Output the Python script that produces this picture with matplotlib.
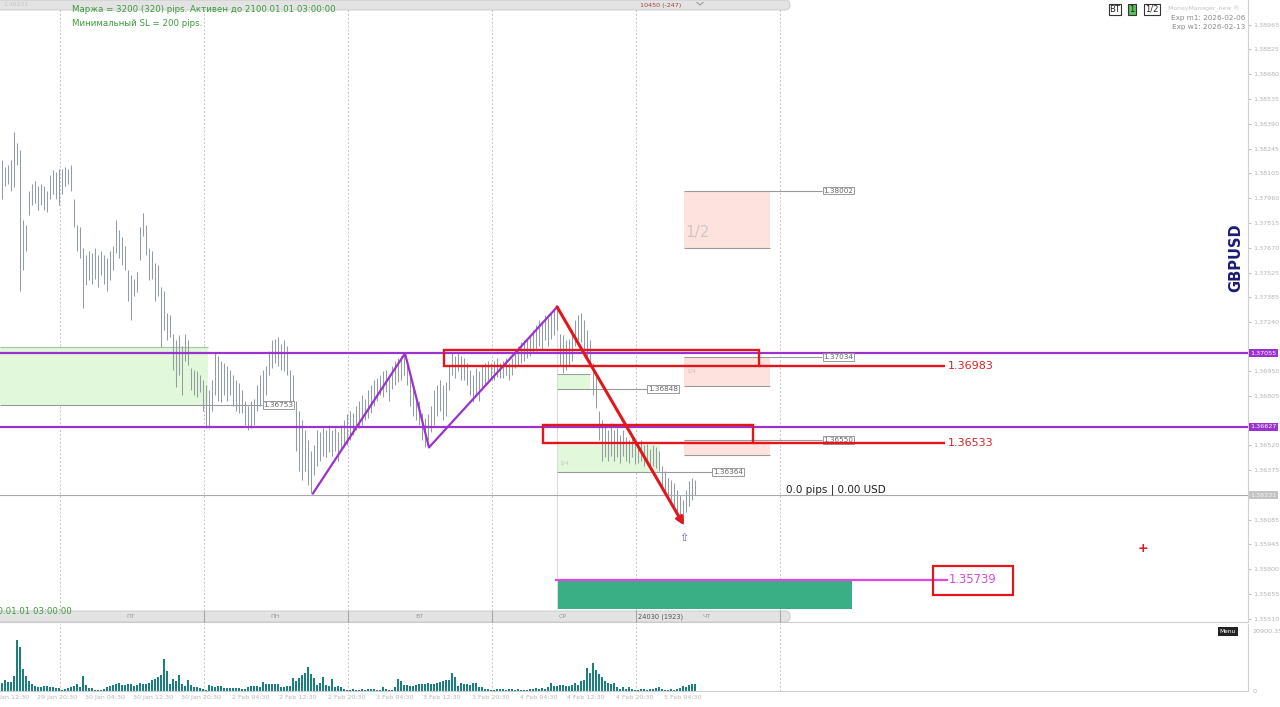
import numpy as np
import matplotlib
matplotlib.use('Agg')
import matplotlib.pyplot as plt
from matplotlib.patches import Rectangle, FancyBboxPatch

plt.rcParams['font.family'] = ['DejaVu Sans']

# GBPUSD, 30 min bars (high / low)
highs = [1.3818, 1.3814, 1.3815, 1.3818, 1.3834, 1.3828, 1.3824, 1.3783, 1.3780, 1.3800,
         1.3804, 1.3806, 1.3803, 1.3804, 1.3803, 1.3800, 1.3809, 1.3812, 1.3811, 1.3813,
         1.3813, 1.3814, 1.3813, 1.3815, 1.3795, 1.3780, 1.3779, 1.3767, 1.3763, 1.3765,
         1.3764, 1.3767, 1.3763, 1.3765, 1.3763, 1.3761, 1.3765, 1.3768, 1.3783, 1.3777,
         1.3773, 1.3768, 1.3754, 1.3751, 1.3749, 1.3753, 1.3779, 1.3787, 1.3780, 1.3767,
         1.3765, 1.3758, 1.3757, 1.3744, 1.3742, 1.3729, 1.3728, 1.3717, 1.3713, 1.3716,
         1.3710, 1.3717, 1.3713, 1.3697, 1.3696, 1.3695, 1.3693, 1.3690, 1.3687, 1.3684,
         1.3690, 1.3706, 1.3704, 1.3701, 1.3700, 1.3698, 1.3696, 1.3693, 1.3690, 1.3688,
         1.3684, 1.3678, 1.3675, 1.3678, 1.3679, 1.3687, 1.3693, 1.3696, 1.3698, 1.3707,
         1.3713, 1.3714, 1.3715, 1.3711, 1.3713, 1.3710, 1.3696, 1.3693, 1.3678, 1.3672,
         1.3667, 1.3661, 1.3655, 1.3649, 1.3652, 1.3661, 1.3660, 1.3662, 1.3661, 1.3664,
         1.3661, 1.3662, 1.3660, 1.3664, 1.3667, 1.3670, 1.3672, 1.3671, 1.3675, 1.3678,
         1.3681, 1.3679, 1.3684, 1.3687, 1.3690, 1.3691, 1.3693, 1.3695, 1.3696, 1.3693,
         1.3698, 1.3701, 1.3703, 1.3704, 1.3706, 1.3701, 1.3693, 1.3687, 1.3681, 1.3678,
         1.3671, 1.3668, 1.3670, 1.3675, 1.3684, 1.3687, 1.3690, 1.3687, 1.3689, 1.3698,
         1.3706, 1.3704, 1.3706, 1.3704, 1.3703, 1.3700, 1.3696, 1.3693, 1.3697, 1.3695,
         1.3698, 1.3700, 1.3701, 1.3700, 1.3701, 1.3703, 1.3700, 1.3701, 1.3703, 1.3700,
         1.3703, 1.3708, 1.3710, 1.3712, 1.3713, 1.3714, 1.3716, 1.3719, 1.3722, 1.3725,
         1.3724, 1.3728, 1.3726, 1.3729, 1.3731, 1.3732, 1.3717, 1.3716, 1.3713, 1.3714,
         1.3719, 1.3725, 1.3728, 1.3729, 1.3725, 1.3719, 1.3713, 1.3700, 1.3693, 1.3672,
         1.3667, 1.3664, 1.3661, 1.3665, 1.3661, 1.3662, 1.3658, 1.3661, 1.3657, 1.3655,
         1.3656, 1.3655, 1.3654, 1.3655, 1.3652, 1.3653, 1.3650, 1.3652, 1.3651, 1.3649,
         1.3640, 1.3637, 1.3633, 1.3632, 1.3630, 1.3626, 1.3623, 1.3620, 1.3626, 1.3631,
         1.3633, 1.3632]

lows = [1.3795, 1.3803, 1.3804, 1.3800, 1.3802, 1.3815, 1.3742, 1.3754, 1.3765, 1.3786,
        1.3792, 1.3793, 1.3789, 1.3792, 1.3789, 1.3788, 1.3795, 1.3798, 1.3795, 1.3792,
        1.3798, 1.3803, 1.3804, 1.3800, 1.3779, 1.3765, 1.3761, 1.3732, 1.3745, 1.3748,
        1.3746, 1.3749, 1.3744, 1.3751, 1.3746, 1.3742, 1.3748, 1.3754, 1.3764, 1.3761,
        1.3757, 1.3754, 1.3736, 1.3725, 1.3739, 1.3741, 1.3760, 1.3774, 1.3763, 1.3748,
        1.3749, 1.3736, 1.3739, 1.3709, 1.3719, 1.3713, 1.3715, 1.3696, 1.3686, 1.3693,
        1.3681, 1.3701, 1.3699, 1.3684, 1.3681, 1.3680, 1.3683, 1.3672, 1.3662, 1.3662,
        1.3672, 1.3681, 1.3678, 1.3677, 1.3681, 1.3678, 1.3681, 1.3675, 1.3672, 1.3671,
        1.3671, 1.3664, 1.3661, 1.3662, 1.3664, 1.3672, 1.3675, 1.3678, 1.3681, 1.3693,
        1.3697, 1.3700, 1.3698, 1.3696, 1.3695, 1.3693, 1.3678, 1.3675, 1.3649, 1.3637,
        1.3632, 1.3637, 1.3629, 1.3624, 1.3635, 1.3640, 1.3643, 1.3646, 1.3645, 1.3648,
        1.3646, 1.3649, 1.3643, 1.3649, 1.3651, 1.3652, 1.3655, 1.3658, 1.3661, 1.3662,
        1.3664, 1.3667, 1.3668, 1.3671, 1.3675, 1.3678, 1.3681, 1.3680, 1.3683, 1.3678,
        1.3685, 1.3687, 1.3689, 1.3690, 1.3693, 1.3687, 1.3675, 1.3669, 1.3667, 1.3664,
        1.3655, 1.3651, 1.3655, 1.3660, 1.3664, 1.3669, 1.3672, 1.3667, 1.3669, 1.3684,
        1.3693, 1.3691, 1.3695, 1.3690, 1.3690, 1.3687, 1.3681, 1.3677, 1.3681, 1.3678,
        1.3684, 1.3687, 1.3690, 1.3691, 1.3690, 1.3692, 1.3691, 1.3691, 1.3693, 1.3690,
        1.3693, 1.3697, 1.3699, 1.3700, 1.3701, 1.3703, 1.3704, 1.3706, 1.3707, 1.3710,
        1.3708, 1.3713, 1.3710, 1.3714, 1.3716, 1.3719, 1.3699, 1.3694, 1.3696, 1.3699,
        1.3701, 1.3710, 1.3713, 1.3712, 1.3707, 1.3701, 1.3699, 1.3681, 1.3674, 1.3655,
        1.3643, 1.3645, 1.3643, 1.3646, 1.3643, 1.3645, 1.3642, 1.3646, 1.3643, 1.3642,
        1.3645, 1.3641, 1.3642, 1.3643, 1.3640, 1.3642, 1.3638, 1.3640, 1.3639, 1.3637,
        1.3626, 1.3623, 1.3621, 1.3620, 1.3617, 1.3614, 1.3611, 1.3606, 1.3613, 1.3617,
        1.3620, 1.3623]

volumes = [2800, 3850, 3150, 3150, 5250, 17850, 15400, 7700, 5250, 3500,
           2450, 1750, 1400, 1400, 1750, 1750, 1400, 1400, 1050, 1050,
           350, 700, 1050, 1400, 1750, 2450, 1400, 5250, 2100, 1050,
           1050, 350, 350, 350, 700, 1400, 1750, 2100, 2450, 2800,
           2100, 2100, 2450, 2450, 1750, 2100, 2800, 2450, 2450, 2800,
           3850, 4200, 4900, 5600, 11200, 7000, 2450, 4200, 3500, 5600,
           2450, 1750, 3850, 2100, 1400, 1400, 1050, 700, 350, 2100,
           1750, 1400, 1750, 1750, 1050, 1050, 1050, 1050, 1050, 1050,
           700, 700, 1400, 1750, 1750, 1750, 1400, 3150, 2450, 2450,
           2450, 2450, 2450, 1400, 1400, 1750, 1750, 4550, 3500, 4550,
           5600, 6300, 8400, 5950, 4550, 2100, 2800, 4900, 2100, 1750,
           4200, 1400, 1750, 1400, 700, 350, 350, 700, 350, 350,
           700, 350, 700, 700, 700, 350, 350, 1400, 700, 350,
           350, 1400, 4200, 3500, 2100, 2100, 1750, 1750, 2100, 2450,
           2450, 2450, 2800, 2450, 2450, 2800, 3150, 3500, 3850, 3850,
           6300, 4900, 1750, 2800, 2450, 2450, 2100, 2800, 2800, 1400,
           1400, 700, 700, 350, 350, 700, 700, 700, 350, 700,
           700, 350, 700, 350, 350, 350, 700, 700, 1050, 700,
           1050, 700, 1400, 2800, 1750, 1750, 2100, 2100, 1750, 1750,
           2100, 2800, 2100, 3500, 3850, 8050, 6300, 9800, 7350, 5950,
           4900, 3500, 2800, 2450, 2800, 1400, 700, 1400, 700, 1400,
           700, 350, 350, 700, 700, 350, 700, 700, 1050, 1400,
           700, 350, 350, 700, 350, 700, 1050, 1750, 1400, 2100,
           2450, 2450]

time_labels = ['29 Jan 12:30', '29 Jan 20:30', '30 Jan 04:30', '30 Jan 12:30', '30 Jan 20:30',
               '2 Feb 04:30', '2 Feb 12:30', '2 Feb 20:30', '3 Feb 04:30', '3 Feb 12:30',
               '3 Feb 20:30', '4 Feb 04:30', '4 Feb 12:30', '4 Feb 20:30', '5 Feb 04:30']
day_names = ['ПТ', 'ПН', 'ВТ', 'СР', 'ЧТ']

price_ticks = [1.38965, 1.38825, 1.38680, 1.38535, 1.38390, 1.38245, 1.38105, 1.37960,
               1.37815, 1.37670, 1.37525, 1.37385, 1.37240, 1.36950, 1.36805, 1.36520,
               1.36375, 1.36085, 1.35945, 1.35800, 1.35655, 1.35510]
purple_levels = [1.37055, 1.36627]
last_price = 1.36231
red_levels = [1.36983, 1.36533]
target_level = 1.35739

# zigzag / arrow points (bar index, price)
zz_x = [103.8, 134.5, 142.5, 185.2]
zz_y = [1.36240, 1.37055, 1.36508, 1.37325]
arrow_end = (227.5, 1.36055)

purple = '#9b32cf'
red = '#e3161c'
bar_col = '#959ba2'
green_fc = '#e1f8da'
pink_fc = '#fde2de'

n = len(highs)
idx = np.arange(n)

fig = plt.figure(figsize=(12.8, 7.07), dpi=100)
ax = fig.add_axes([0, 85 / 707, 1248 / 1280, 622 / 707])
axv = fig.add_axes([0, 16 / 707, 1248 / 1280, 67 / 707])
ui = fig.add_axes([0, 0, 1, 1], zorder=5)
ui.set_xlim(0, 1280)
ui.set_ylim(707, 0)
ui.axis('off')

ax.set_xlim(-0.5, 415.5)
ax.set_ylim(1.354925, 1.391104)
axv.set_xlim(-0.5, 415.5)
axv.set_ylim(0, 23316)

# day separators
day_bounds = [19.5 + 48 * k for k in range(6)]
for d in day_bounds:
    ax.axvline(d, color='#c4c4c4', ls=(0, (2, 2)), lw=0.7, zorder=0)
    axv.axvline(d, color='#c4c4c4', ls=(0, (2, 2)), lw=0.7, zorder=0)

# price bars
ax.vlines(idx, lows, highs, color=bar_col, lw=0.75, zorder=2)


def zone(x0, x1, p0, p1, fc):
    ax.add_patch(Rectangle((x0, p0), x1 - x0, p1 - p0, fc=fc, ec='none', zorder=1))


def tag(x, p, txt):
    ax.text(x, p, txt, fontsize=5.2, color='#666666', va='center', ha='left', zorder=6,
            bbox=dict(boxstyle='square,pad=0.12', fc='white', ec='#8a8a8a', lw=0.6))


# green zones
zone(-0.5, 68.8, 1.36753, 1.37090, green_fc)
ax.hlines(1.37090, -0.5, 68.8, color='#a9c7a2', lw=0.9, zorder=1.5)
ax.hlines(1.36753, -0.5, 86.8, color='#9a9a9a', lw=0.8, zorder=1.5)
tag(87.3, 1.36753, '1.36753')

zone(185.2, 196.2, 1.36848, 1.36934, green_fc)
ax.hlines(1.36934, 185.2, 196.2, color='#a0a0a0', lw=0.8, zorder=1.5)
ax.hlines(1.36848, 185.2, 215.0, color='#9a9a9a', lw=0.8, zorder=1.5)
tag(215.4, 1.36848, '1.36848')

zone(185.2, 219.5, 1.36364, 1.36520, green_fc)
ax.hlines(1.36364, 185.2, 236.8, color='#9a9a9a', lw=0.8, zorder=1.5)
tag(237.2, 1.36364, '1.36364')
ax.text(186, 1.36410, '1/4', fontsize=4.5, color='#c9c9c9', zorder=2)

# pink zones
for lo, hi, txt in [(1.37667, 1.38002, '1.38002'), (1.36863, 1.37034, '1.37034'),
                    (1.36462, 1.36550, '1.36550')]:
    zone(227.5, 256.2, lo, hi, pink_fc)
    ax.hlines(hi, 227.5, 273.6, color='#9a9a9a', lw=0.8, zorder=1.5)
    ax.hlines(lo, 227.5, 256.2, color='#9a9a9a', lw=0.8, zorder=1.5)
    tag(274.0, hi, txt)
ax.text(228, 1.37759, '1/2', fontsize=11, color='#d0c8c8', va='center', zorder=2)
ax.text(228.3, 1.36950, '1/4', fontsize=4.5, color='#d0c0c0', va='center', zorder=2)

ax.vlines(185.2, 1.35571, 1.37325, color='#dcdcdc', lw=0.8, zorder=1)

# horizontal levels
for p in purple_levels:
    ax.axhline(p, color=purple, lw=1.6, zorder=4)
    ax.text(1.002, p, f'{p:.5f}', transform=ax.get_yaxis_transform(), fontsize=4.6,
            color='white', va='center', ha='left', clip_on=False, zorder=8,
            bbox=dict(boxstyle='square,pad=0.25', fc=purple, ec='none'))
ax.axhline(last_price, color='#a8a8a8', lw=0.8, zorder=2)
ax.text(1.002, last_price, f'{last_price:.5f}', transform=ax.get_yaxis_transform(),
        fontsize=4.6, color='#f2f2f2', va='center', ha='left', clip_on=False, zorder=8,
        bbox=dict(boxstyle='square,pad=0.25', fc='#c4c4c4', ec='none'))

# zigzag
ax.plot(zz_x, zz_y, color=purple, lw=1.6, zorder=5)

# red boxes with levels
red_boxes = [(147.5, 252.5, red_levels[0], 1.37075), (180.5, 250.5, red_levels[1], 1.36640)]
for x0, x1, lo, hi in red_boxes:
    ax.add_patch(Rectangle((x0, lo), x1 - x0, hi - lo, fill=False, ec=red, lw=1.7, zorder=7))
    ax.hlines(lo, x1, 314.5, color=red, lw=1.7, zorder=7)
    ax.text(315.3, lo, f'{lo:.5f}', fontsize=8, color='#d42424', va='center', ha='left', zorder=7)

# red arrow
ax.annotate('', xy=arrow_end, xytext=(zz_x[-1], zz_y[-1]),
            arrowprops=dict(arrowstyle='-|>', color=red, lw=2.2, mutation_scale=11,
                            shrinkA=0, shrinkB=0), zorder=8)

# target
ax.add_patch(Rectangle((185.5, 1.35571), 98, target_level - 1.35571, fc='#3aaf86', ec='none', zorder=3))
ax.hlines(target_level, 184.5, 315.5, color='#e444e4', lw=1.6, zorder=6)
ax.add_patch(Rectangle((310.5, 1.35647), 26.7, 0.00169, fill=False, ec=red, lw=1.6, zorder=7))
ax.text(315.6, target_level, f'{target_level:.5f}', fontsize=8.3, color='#d64ad6',
        va='center', ha='left', zorder=7)

ax.text(261.5, 1.36264, '0.0 pips | 0.00 USD', fontsize=7.5, color='#222222', va='center',
        ha='left', zorder=7)
ax.text(227.5, 1.35979, '⇧', fontsize=8, color='#5b5bd6', ha='center', va='center', zorder=7)
ax.text(380.5, 1.35921, '+', fontsize=9, fontweight='bold', color=red, ha='center',
        va='center', zorder=7)
ax.text(411.5, 1.37609, 'GBPUSD', rotation=90, fontsize=10.5, fontweight='bold',
        color='#1c1c78', ha='center', va='center', zorder=7)

# price axis on the right
ax.yaxis.tick_right()
ax.set_yticks(price_ticks)
ax.set_yticklabels([f'{v:.5f}' for v in price_ticks])
ax.tick_params(axis='y', labelsize=4.6, colors='#b4b4b4', length=2, pad=1.5, width=0.6)
ax.set_xticks([])
for s in ['top', 'left']:
    ax.spines[s].set_visible(False)
ax.spines['right'].set_color('#cfcfcf')
ax.spines['bottom'].set_color('#cfcfcf')

# volume panel: 2 px wide columns
axv.vlines(idx, 0, volumes, color='#1b7f80', lw=1.44, antialiased=False, zorder=2)
axv.yaxis.tick_right()
axv.set_yticks([0, 20900.35])
axv.set_yticklabels(['0', '20900.35'])
axv.tick_params(axis='y', labelsize=4.6, colors='#b4b4b4', length=0, pad=3)
axv.set_xticks([9.2 + 16 * k for k in range(len(time_labels))])
axv.set_xticklabels(time_labels, ha='right')
axv.tick_params(axis='x', labelsize=4.6, colors='#b8b8b8', length=0, pad=3)
for s in ['top', 'left']:
    axv.spines[s].set_visible(False)
axv.spines['right'].set_color('#cfcfcf')
axv.spines['bottom'].set_color('#cfcfcf')

# top bar
ui.add_patch(FancyBboxPatch((-10, 0), 800, 10, boxstyle='round,pad=0,rounding_size=5',
                            fc='#e3e3e3', ec='#c6c6c6', lw=0.6))
ui.text(3, 5, '1.36231', fontsize=4.4, color='#c6c6c6', va='center')
ui.text(640, 5, '10450 (-247)', fontsize=4.6, color='#a04444', va='center')
ui.plot([697, 700, 703], [2.5, 5, 2.5], color='#9a9a9a', lw=0.8)
ui.text(72, 9, 'Маржа = 3200 (320) pips. Активен до 2100.01.01 03:00:00', fontsize=6.2,
        color='#3c9b3c', va='center')
ui.text(72, 24, 'Минимальный SL = 200 pips.', fontsize=6.2, color='#3c9b3c', va='center')

# bottom time bar
ui.add_patch(FancyBboxPatch((-10, 611), 800, 11, boxstyle='round,pad=0,rounding_size=5',
                            fc='#e3e3e3', ec='#c6c6c6', lw=0.6))
for k, name in enumerate(day_names):
    ui.text(131 + 144 * k, 616.5, name, fontsize=4.6, color='#9a9a9a', ha='center', va='center')
    ui.plot([204 + 144 * k] * 2, [611, 622], color='#a8a8a8', lw=0.8)
ui.text(638, 616.5, '24030 (1923)', fontsize=4.8, color='#555555', va='center')
ui.text(72, 612, '2100.01.01 03:00:00', fontsize=6.2, color='#3c9b3c', ha='right', va='center')

# top right widgets
ui.text(1115, 9, 'BT', fontsize=6, color='#222222', ha='center', va='center',
        bbox=dict(boxstyle='square,pad=0.12', fc='white', ec='#333333', lw=0.8))
ui.text(1132, 9, '1', fontsize=6, color='#222222', ha='center', va='center',
        bbox=dict(boxstyle='square,pad=0.12', fc='#5cc05c', ec='#333333', lw=0.8))
ui.text(1152, 9, '1/2', fontsize=6, color='#222222', ha='center', va='center',
        bbox=dict(boxstyle='square,pad=0.12', fc='white', ec='#333333', lw=0.8))
ui.text(1165, 9, '_MoneyManager_new ®', fontsize=4.4, color='#c4c4c4', va='center')
ui.text(1245, 18, 'Exp m1: 2026-02-06', fontsize=5.2, color='#8a8a8a', ha='right', va='center')
ui.text(1245, 27, 'Exp w1: 2026-02-13', fontsize=5.2, color='#8a8a8a', ha='right', va='center')
ui.text(1228, 631.5, 'Menu', fontsize=4.2, color='white', ha='center', va='center',
        bbox=dict(boxstyle='square,pad=0.35', fc='#222222', ec='none'))

fig.savefig('out.png', dpi=100)
